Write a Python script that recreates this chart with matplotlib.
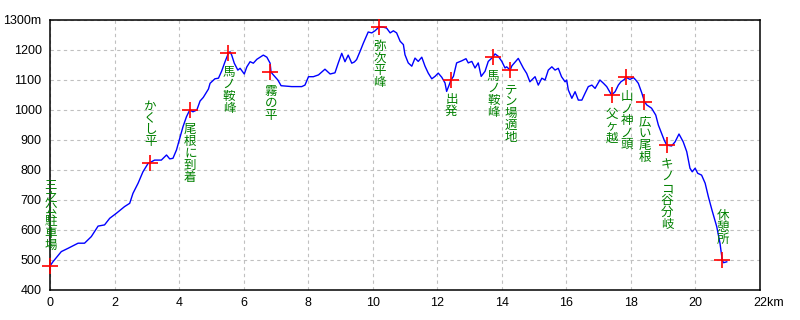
import matplotlib
matplotlib.use("Agg")
import matplotlib.pyplot as plt
import matplotlib.transforms as mtransforms

# ---- data ----
dist_km = [0.00, 0.09, 0.35, 0.56, 0.87, 1.07, 1.28, 1.49, 1.69, 1.85, 2.06, 2.31, 2.47, 2.57, 2.73,
           2.88, 3.04, 3.10, 3.24, 3.45, 3.61, 3.71, 3.81, 3.92, 4.02, 4.12, 4.23, 4.33, 4.43, 4.55,
           4.65, 4.75, 4.91, 4.96, 5.11, 5.22, 5.32, 5.42, 5.53, 5.58, 5.63, 5.71, 5.82, 5.89, 6.02,
           6.10, 6.20, 6.30, 6.41, 6.51, 6.61, 6.72, 6.82, 6.85, 6.92, 7.06, 7.16, 7.49, 7.80, 7.90,
           8.01, 8.16, 8.32, 8.52, 8.68, 8.83, 8.93, 9.04, 9.14, 9.24, 9.35, 9.43, 9.50, 9.61, 9.71,
           9.86, 9.97, 10.07, 10.20, 10.33, 10.43, 10.54, 10.64, 10.74, 10.85, 10.95, 11.00, 11.10,
           11.21, 11.31, 11.41, 11.52, 11.62, 11.72, 11.83, 11.93, 12.03, 12.14, 12.24, 12.29, 12.37,
           12.42, 12.50, 12.60, 12.76, 12.89, 12.96, 13.07, 13.17, 13.27, 13.36, 13.48, 13.58, 13.72,
           13.79, 13.89, 14.00, 14.10, 14.15, 14.26, 14.31, 14.51, 14.67, 14.77, 14.87, 15.03, 15.13,
           15.24, 15.34, 15.44, 15.55, 15.65, 15.75, 15.85, 15.96, 16.01, 16.06, 16.17, 16.27, 16.37,
           16.48, 16.58, 16.68, 16.79, 16.89, 17.04, 17.15, 17.25, 17.40, 17.51, 17.61, 17.69, 17.80,
           17.85, 17.97, 18.08, 18.15, 18.23, 18.34, 18.42, 18.49, 18.64, 18.77, 18.85, 18.95, 19.03,
           19.11, 19.26, 19.37, 19.49, 19.62, 19.73, 19.83, 19.90, 19.99, 20.07, 20.19, 20.30, 20.40,
           20.51, 20.66, 20.76, 20.83, 20.87, 20.97]
elev_m = [480, 494, 528, 539, 556, 556, 578, 613, 617, 639, 656, 678, 689, 722, 756,
          794, 822, 825, 833, 833, 850, 837, 839, 867, 906, 944, 978, 1000, 994, 1000,
          1030, 1042, 1070, 1089, 1104, 1106, 1130, 1160, 1190, 1194, 1183, 1156, 1133, 1139, 1120,
          1144, 1161, 1156, 1169, 1176, 1183, 1176, 1156, 1126, 1117, 1100, 1081, 1078, 1078, 1083,
          1111, 1111, 1117, 1136, 1120, 1124, 1156, 1189, 1161, 1183, 1156, 1160, 1168, 1196, 1223,
          1260, 1257, 1264, 1277, 1276, 1273, 1257, 1264, 1257, 1229, 1218, 1184, 1157,
          1146, 1173, 1162, 1176, 1146, 1123, 1104, 1112, 1123, 1109, 1090, 1062, 1084,
          1099, 1112, 1157, 1164, 1171, 1157, 1162, 1140, 1157, 1112, 1129, 1162, 1176,
          1187, 1179, 1162, 1140, 1144, 1133, 1147, 1172, 1139, 1122, 1094, 1111, 1083,
          1106, 1100, 1133, 1144, 1133, 1139, 1111, 1094, 1100, 1067, 1039, 1061, 1033,
          1033, 1056, 1078, 1083, 1072, 1100, 1089, 1078, 1050, 1061, 1083, 1094, 1102,
          1109, 1102, 1108, 1100, 1089, 1056, 1028, 1017, 1006, 983, 950, 922, 900,
          883, 880, 894, 920, 894, 861, 806, 794, 806, 789, 783, 756, 711,
          667, 611, 556, 500, 491, 494]

wp_names = ["三之公駐車場", "かくし平", "尾根に到着", "馬ノ鞍峰", "霧の平", "弥次平峰", "出発",
            "馬ノ鞍峰", "テン場適地", "父ヶ越", "山ノ神ノ頭", "広い尾根", "キノコ谷分岐", "休憩所"]
wp_km = [0.00, 3.10, 4.33, 5.53, 6.83, 10.20, 12.42, 13.72, 14.26, 17.40, 17.85, 18.42, 19.11, 20.83]
wp_elev = [480, 825, 1000, 1190, 1126, 1277, 1099, 1176, 1133, 1050, 1109, 1028, 883, 500]
wp_side = ["above", "above", "below", "below", "below", "below", "below",
           "below", "below", "below", "below", "below", "below", "above"]

x_ticks = [0, 2, 4, 6, 8, 10, 12, 14, 16, 18, 20, 22]
x_ticklabels = ["0", "2", "4", "6", "8", "10", "12", "14", "16", "18", "20", "22km"]
y_ticks = [400, 500, 600, 700, 800, 900, 1000, 1100, 1200, 1300]
y_ticklabels = ["400", "500", "600", "700", "800", "900", "1000", "1100", "1200", "1300m"]

# ---- figure ----
fig = plt.figure(figsize=(8, 3.2), dpi=100)
fig.patch.set_facecolor("white")
ax = fig.add_axes([50 / 800, 1 - 290 / 320, 710 / 800, 270 / 320])
ax.set_xlim(0, 22)
ax.set_ylim(400, 1300)

ax.grid(True, color="#c0c0c0", linestyle=(0, (3, 3)), linewidth=0.8)
ax.set_axisbelow(True)

ax.plot(dist_km, elev_m, color="#0000ff", linewidth=1.0, zorder=3)
ax.plot(wp_km, wp_elev, linestyle="none", marker="+", color="#ff0000",
        markersize=12, markeredgewidth=1.2, zorder=4, clip_on=False)

jp_font = ["Noto Sans CJK JP", "DejaVu Sans"]
char_step = 12.0
for name, xk, ye, side in zip(wp_names, wp_km, wp_elev, wp_side):
    n = len(name)
    for i, ch in enumerate(name):
        if side == "below":
            dy = -(13 + i * char_step)
            va = "top"
        else:
            dy = 14 + (n - 1 - i) * char_step
            va = "bottom"
        ax.annotate(ch, xy=(xk, ye), xytext=(0.5, dy), textcoords="offset pixels",
                    ha="center", va=va, color="#008000", fontsize=9,
                    family=jp_font, zorder=5, annotation_clip=False)

ax.set_xticks(x_ticks)
ax.set_xticklabels(x_ticklabels)
ax.set_yticks(y_ticks)
ax.set_yticklabels(y_ticklabels)
ax.tick_params(axis="both", length=0, labelsize=9, colors="black")
ax.tick_params(axis="x", pad=5)
ax.tick_params(axis="y", pad=6)
for lab in ax.get_xticklabels() + ax.get_yticklabels():
    lab.set_family("Liberation Sans")

last = ax.get_xticklabels()[-1]
last.set_horizontalalignment("left")
last.set_transform(last.get_transform() + mtransforms.ScaledTranslation(-7 / 100, 0, fig.dpi_scale_trans))

for sp in ax.spines.values():
    sp.set_color("black")
    sp.set_linewidth(1.1)

fig.savefig("out.png", dpi=100, facecolor="white")
